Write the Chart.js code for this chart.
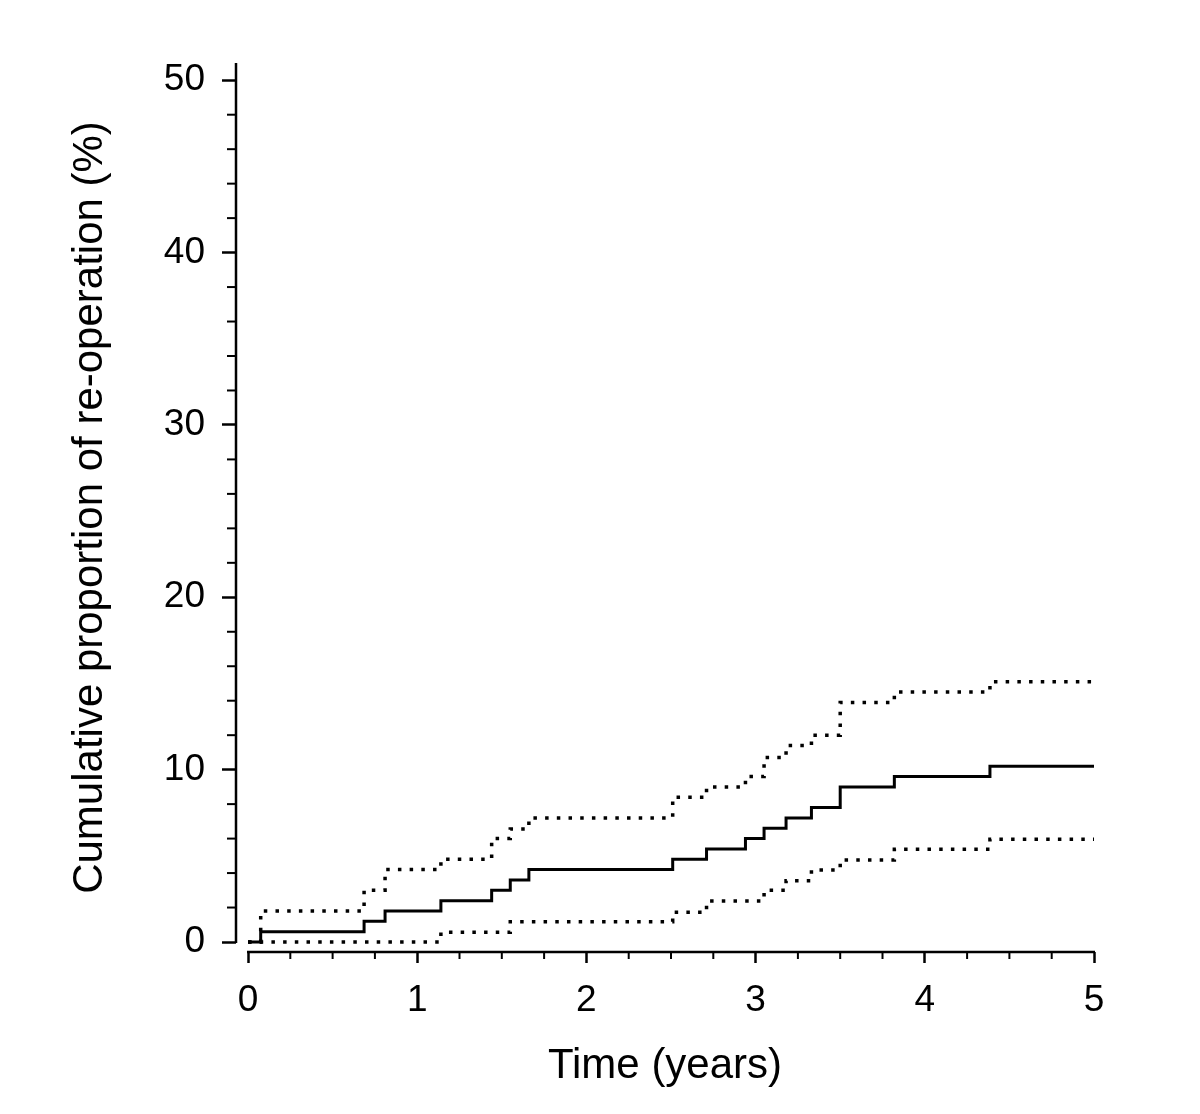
<!DOCTYPE html>
<html>
<head>
<meta charset="utf-8">
<title>Cumulative proportion of re-operation</title>
<script src="https://cdn.jsdelivr.net/npm/chart.js@4"></script>
<style>
    html, body { margin: 0; padding: 0; background: #fff; overflow: hidden; }
    #wrap { position: relative; width: 1200px; height: 1114px; }
</style>
</head>
<body>
<div id="wrap"><canvas id="reopChart"></canvas></div>
<script>
// Step times (years) where the estimate changes
const stepTimes = [0, 0.075, 0.686, 0.81, 1.14, 1.44, 1.55, 1.66, 2.51, 2.71, 2.94, 3.05, 3.18, 3.33, 3.50, 3.82, 4.385, 5.0];

// Cumulative proportion (%) and its confidence band
const estimate = [0, 0.6, 1.2, 1.8, 2.4, 3.0, 3.6, 4.2, 4.8, 5.4, 6.0, 6.6, 7.2, 7.8, 9.0, 9.6, 10.2, 10.2];
const upperCI = [0, 1.8, 3.0, 4.2, 4.8, 6.0, 6.55, 7.2, 8.4, 9.0, 9.6, 10.7, 11.4, 12.0, 13.9, 14.5, 15.1, 15.1];
const lowerCI = [0, 0, 0, 0, 0.56, 0.56, 1.18, 1.18, 1.72, 2.38, 2.38, 3.0, 3.56, 4.18, 4.76, 5.38, 5.96, 5.96];

// Tick values
const xMajorTicks = [0, 1, 2, 3, 4, 5];
const yMajorTicks = [0, 10, 20, 30, 40, 50];
const xMinorTicks = [0.25, 0.5, 0.75, 1.25, 1.5, 1.75, 2.25, 2.5, 2.75, 3.25, 3.5, 3.75, 4.25, 4.5, 4.75];
const yMinorTicks = [2, 4, 6, 8, 12, 14, 16, 18, 22, 24, 26, 28, 32, 34, 36, 38, 42, 44, 46, 48];

const FONT = '"Liberation Sans", Arial, sans-serif';

function toPoints(values) {
    return stepTimes.map((t, i) => ({ x: t, y: values[i] }));
}

/**
 * Draws the detached axis lines and the minor tick marks
 */
const axisPlugin = {
    id: 'axisPlugin',
    afterDraw(chart) {
        const { ctx, chartArea, scales } = chart;
        const xs = scales.x;
        const ys = scales.y;
        ctx.save();
        ctx.strokeStyle = '#000';
        ctx.lineWidth = 2.5;
        ctx.lineCap = 'butt';

        // y axis line
        ctx.beginPath();
        ctx.moveTo(chartArea.left, ys.getPixelForValue(0) + 1);
        ctx.lineTo(chartArea.left, chartArea.top);
        ctx.stroke();

        // x axis line
        ctx.beginPath();
        ctx.moveTo(xs.getPixelForValue(0) - 1, chartArea.bottom);
        ctx.lineTo(xs.getPixelForValue(5) + 1, chartArea.bottom);
        ctx.stroke();

        ctx.lineWidth = 2;
        yMinorTicks.forEach(v => {
            const py = ys.getPixelForValue(v);
            ctx.beginPath();
            ctx.moveTo(chartArea.left - 9, py);
            ctx.lineTo(chartArea.left, py);
            ctx.stroke();
        });
        xMinorTicks.forEach(v => {
            const px = xs.getPixelForValue(v);
            ctx.beginPath();
            ctx.moveTo(px, chartArea.bottom);
            ctx.lineTo(px, chartArea.bottom + 7);
            ctx.stroke();
        });
        ctx.restore();
    }
};

const dottedStyle = {
    borderColor: '#000',
    borderWidth: 3.5,
    borderDash: [3.5, 8.2],
    borderCapStyle: 'butt',
    pointRadius: 0,
    stepped: 'before',
    fill: false,
    clip: false
};

new Chart(document.getElementById('reopChart'), {
    type: 'line',
    data: {
        datasets: [
            Object.assign({ label: 'Upper 95% CI', data: toPoints(upperCI) }, dottedStyle),
            Object.assign({ label: 'Lower 95% CI', data: toPoints(lowerCI) }, dottedStyle),
            {
                label: 'Re-operation',
                data: toPoints(estimate),
                borderColor: '#000',
                borderWidth: 3,
                pointRadius: 0,
                stepped: 'before',
                fill: false,
                clip: false
            }
        ]
    },
    options: {
        responsive: true,
        maintainAspectRatio: false,
        animation: false,
        layout: {
            padding: { top: 63, right: 106, bottom: 0, left: 0 }
        },
        plugins: {
            legend: { display: false },
            tooltip: { enabled: false }
        },
        scales: {
            x: {
                type: 'linear',
                min: -0.071,
                max: 5,
                afterBuildTicks: axis => { axis.ticks = xMajorTicks.map(v => ({ value: v })); },
                afterFit: scale => { scale.height = 162; },
                border: { display: false },
                grid: {
                    display: true,
                    drawOnChartArea: false,
                    drawTicks: true,
                    tickLength: 11,
                    tickWidth: 2.5,
                    tickColor: '#000'
                },
                ticks: {
                    color: '#000',
                    padding: 16,
                    maxRotation: 0,
                    font: { family: FONT, size: 37 }
                },
                title: {
                    display: true,
                    text: 'Time (years)',
                    color: '#000',
                    padding: { top: 0, bottom: 22 },
                    font: { family: FONT, size: 42 }
                }
            },
            y: {
                type: 'linear',
                min: -0.58,
                max: 51,
                afterBuildTicks: axis => { axis.ticks = yMajorTicks.map(v => ({ value: v })); },
                afterFit: scale => { scale.width = 236; },
                border: { display: false },
                grid: {
                    display: true,
                    drawOnChartArea: false,
                    drawTicks: true,
                    tickLength: 14,
                    tickWidth: 2.5,
                    tickColor: '#000'
                },
                ticks: {
                    color: '#000',
                    padding: 17,
                    font: { family: FONT, size: 37 }
                },
                title: {
                    display: true,
                    text: 'Cumulative proportion of re-operation (%)',
                    color: '#000',
                    padding: { top: 65, bottom: 0 },
                    font: { family: FONT, size: 42 }
                }
            }
        }
    },
    plugins: [axisPlugin]
});
</script>
</body>
</html>
